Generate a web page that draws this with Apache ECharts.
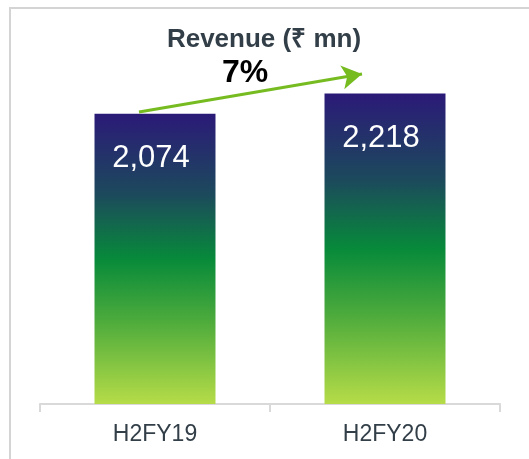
<!DOCTYPE html>
<html>
<head>
<meta charset="utf-8">
<script src="https://cdn.jsdelivr.net/npm/echarts@6/dist/echarts.min.js"></script>
<style>
  html, body { margin: 0; padding: 0; background: #fff; }
  #chart { width: 529px; height: 459px; }
</style>
</head>
<body>
<div id="chart"></div>
<script>
// data
const periods = ["H2FY19", "H2FY20"];
const revenue = [2074, 2218];
const growthText = "7%";

const barGradient = new echarts.graphic.LinearGradient(0, 0, 0, 1, [
  { offset: 0, color: "#2b1a78" },
  { offset: 0.28, color: "#1c4a5c" },
  { offset: 0.5, color: "#078a3a" },
  { offset: 0.72, color: "#4fac3c" },
  { offset: 1, color: "#b6dc48" }
]);

let myChart = echarts.init(document.getElementById("chart"));
myChart.setOption({
  animation: false,
  title: {
    text: "Revenue (₹ mn)",
    left: 259,
    top: 22,
    textAlign: "center",
    textStyle: { fontFamily: "Liberation Sans", fontSize: 26, fontWeight: "bold", color: "#333f48" }
  },
  graphic: [
    {
      type: "rect",
      shape: { x: 10, y: 8, width: 560, height: 500 },
      style: { fill: "none", stroke: "#d4d4d4", lineWidth: 2 },
      silent: true
    },
    {
      type: "text",
      left: 222,
      top: 57,
      style: { text: growthText, font: "bold 32px 'Liberation Sans'", fill: "#000" }
    }
  ],
  grid: { left: 40, right: 29, top: 54, bottom: 55 },
  xAxis: {
    type: "category",
    data: periods,
    axisLine: { lineStyle: { color: "#d9d9d9", width: 2 } },
    axisTick: { show: true, length: 8, lineStyle: { color: "#d9d9d9", width: 2 } },
    axisLabel: { fontFamily: "Liberation Sans", fontSize: 23, color: "#333f48", margin: 19 }
  },
  yAxis: {
    type: "value",
    min: 0,
    max: 2500,
    show: false,
    splitLine: { show: false }
  },
  series: [{
    type: "bar",
    data: revenue,
    barWidth: "52.6%",
    itemStyle: { color: barGradient },
    label: {
      show: true,
      position: "insideTop",
      distance: 29,
      offset: [-4, 0],
      formatter: p => p.value.toLocaleString("en-US"),
      fontFamily: "Liberation Sans",
      fontSize: 31,
      color: "#fff"
    },
    markLine: {
      silent: true,
      symbol: ["none", "arrow"],
      symbolSize: [18, 20],
      label: { show: false },
      lineStyle: { color: "#76bc21", width: 3, type: "solid" },
      data: [[{ x: 139, y: 112 }, { x: 362, y: 74 }]]
    }
  }]
});
</script>
</body>
</html>
